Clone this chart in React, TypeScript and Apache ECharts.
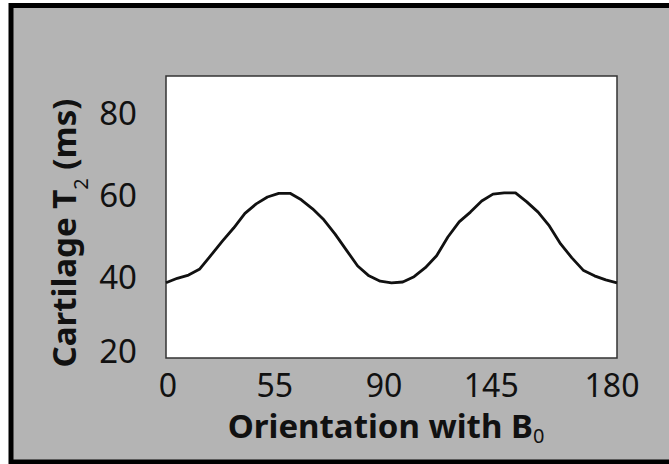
import React, { useEffect, useRef } from 'react';
import * as echarts from 'echarts';

const xTickLabels = ['0', '55', '90', '145', '180'];
const yTickValues = [20, 40, 60, 80];
// positions along the orientation axis (0..4 = label slots 0,55,90,145,180)
const xPositions = [
  0, 0.1, 0.2, 0.3, 0.4, 0.5, 0.6, 0.7, 0.8, 0.9,
  1.0, 1.1, 1.2, 1.3, 1.4, 1.5, 1.6, 1.7, 1.8, 1.9,
  2.0, 2.1, 2.2, 2.3, 2.4, 2.5, 2.6, 2.7, 2.8, 2.9,
  3.0, 3.1, 3.2, 3.3, 3.4, 3.5, 3.6, 3.7, 3.8, 3.9, 4.0,
];
const t2Values = [
  38.4, 39.5, 40.3, 41.8, 45.2, 48.6, 51.8, 55.4, 57.7, 59.4,
  60.3, 60.3, 58.7, 56.5, 53.8, 50.3, 46.4, 42.5, 40.1, 38.8,
  38.4, 38.6, 39.9, 42.1, 45.0, 49.6, 53.3, 55.7, 58.4, 60.1,
  60.4, 60.4, 58.2, 55.7, 52.3, 47.9, 44.5, 41.5, 40.1, 39.1, 38.4,
];

const FONT = 'Noto Sans';

export default function App() {
  const ref = useRef<HTMLDivElement>(null);
  useEffect(() => {
    if (!ref.current) return;
    const chart = echarts.init(ref.current, null, { renderer: 'svg' });
    const xLabelPad: number[][] = [
      [0, 0, 0, 4],
      [0, 8, 0, 0],
      [0, 15, 0, 0],
      [0, 26, 0, 0],
      [0, 10, 0, 0],
    ];
    const xRich: any = {};
    xLabelPad.forEach((p, i) => {
      xRich['l' + i] = { fontSize: 32, lineHeight: 28, fontFamily: FONT, color: '#111', padding: p };
    });
    chart.setOption({
      animation: false,
      backgroundColor: '#ffffff',
      graphic: [
        {
          type: 'rect',
          z: -100,
          shape: { x: 11, y: 5.5, width: 680, height: 456.5 },
          style: { fill: '#b4b4b4', stroke: '#000', lineWidth: 5 },
        },
        {
          type: 'text',
          x: 63,
          y: 233,
          rotation: Math.PI / 2,
          style: {
            text: '{a|Cartilage T}{s|2}{a| (ms)}',
            align: 'center',
            verticalAlign: 'middle',
            rich: {
              a: { fontSize: 33, fontWeight: 'bold', fontFamily: FONT, fill: '#111', lineHeight: 34 },
              s: { fontSize: 20, fontFamily: FONT, fill: '#111', lineHeight: 34, verticalAlign: 'bottom', padding: [0, 0, -10, 0] },
            },
          },
        },
        {
          type: 'text',
          x: 386,
          y: 425,
          style: {
            text: '{a|Orientation with B}{s|0}',
            align: 'center',
            verticalAlign: 'middle',
            rich: {
              a: { fontSize: 33, fontWeight: 'bold', fontFamily: FONT, fill: '#111', lineHeight: 28 },
              s: { fontSize: 20, fontFamily: FONT, fill: '#111', lineHeight: 28, verticalAlign: 'bottom', padding: [0, 0, -6, 0] },
            },
          },
        },
      ],
      grid: {
        left: 166,
        top: 76,
        right: 52,
        bottom: 106,
        show: true,
        backgroundColor: '#ffffff',
        borderColor: '#333',
        borderWidth: 1.5,
      },
      xAxis: {
        type: 'value',
        min: 0,
        max: 4,
        interval: 1,
        axisLine: { show: false },
        axisTick: { show: false },
        splitLine: { show: false },
        axisLabel: {
          margin: 12,
          formatter: (v: number) => {
            const i = Math.round(v);
            return '{l' + i + '|' + (xTickLabels[i] ?? '') + '}';
          },
          rich: xRich,
        },
      },
      yAxis: {
        type: 'value',
        min: 20,
        max: 89,
        interval: 20,
        axisLine: { show: false },
        axisTick: { show: false },
        splitLine: { show: false },
        axisLabel: {
          margin: 29,
          formatter: (v: number) => {
            if (!yTickValues.includes(v)) return '';
            return v === 20 ? '{b|' + v + '}' : '{n|' + v + '}';
          },
          rich: {
            n: { fontSize: 33, fontFamily: FONT, color: '#111' },
            b: { fontSize: 33, fontFamily: FONT, color: '#111', padding: [0, 0, 16, 0] },
          },
        },
      },
      series: [
        {
          type: 'line',
          data: xPositions.map((x, i) => [x, t2Values[i]]),
          symbol: 'none',
          lineStyle: { color: '#111', width: 2.8 },
        },
      ],
    });
    return () => chart.dispose();
  }, []);
  return (
    <div
      ref={ref}
      style={{ position: 'fixed', left: 0, top: 0, width: 669, height: 464 }}
    />
  );
}
